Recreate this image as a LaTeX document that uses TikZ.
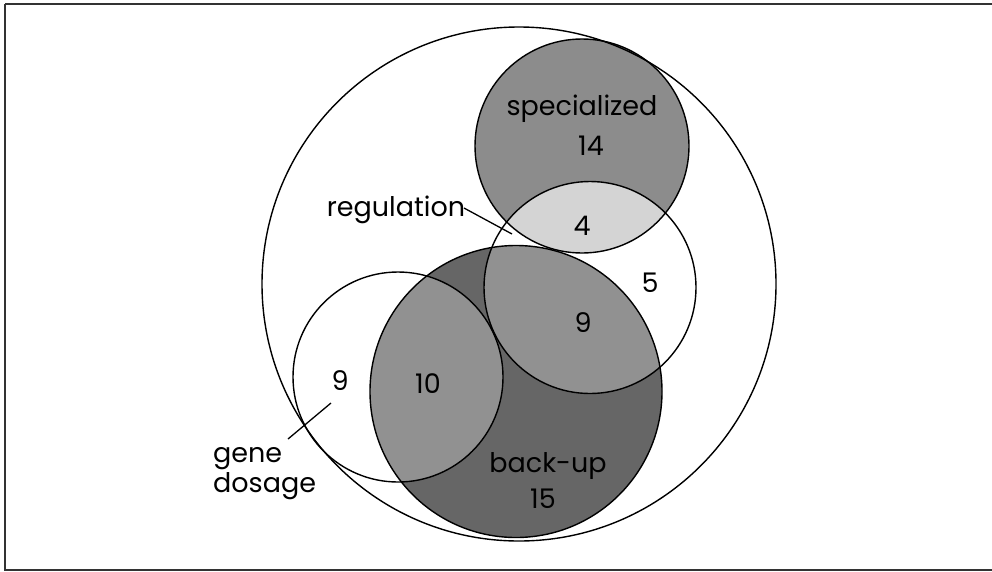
\documentclass[tikz,border=0pt]{standalone}
\usepackage{fontspec}
\setmainfont{Poppins}
\begin{document}
\begin{tikzpicture}[x=1pt,y=-1pt,
  circ/.style={draw=black,line width=1.4pt},
  lbl/.style={font=\fontsize{27}{30}\selectfont,inner sep=0pt,anchor=base},
  leader/.style={draw=black,line width=1.3pt}]
\useasboundingbox (0,0) rectangle (992,571);
\clip (0,0) rectangle (992,571);
\fill[white] (0,0) rectangle (992,571);
\draw[line width=1.8pt,draw=black!80] (5,4) -- (998,4) (5,4) -- (5,570) -- (998,570);
% circle geometry
\def\Big{(519,284) circle[radius=257]}
\def\Spec{(582,146) circle[radius=107]}
\def\Reg{(590,287.5) circle[radius=106]}
\def\Back{(516,391.5) circle[radius=146]}
\def\Gene{(398,377) circle[radius=105]}
% fills
\fill[gray!75!black!0, fill={rgb,255:red,102;green,102;blue,102}] \Back;
\fill[fill={rgb,255:red,140;green,140;blue,140}] \Spec;
\begin{scope}
  \clip \Spec;
  \fill[fill={rgb,255:red,212;green,212;blue,212}] \Reg;
\end{scope}
\begin{scope}
  \clip \Back;
  \fill[fill={rgb,255:red,145;green,145;blue,145}] \Reg;
  \fill[fill={rgb,255:red,145;green,145;blue,145}] \Gene;
\end{scope}
% outlines
\draw[circ] \Big;
\draw[circ] \Spec;
\draw[circ] \Reg;
\draw[circ] \Back;
\draw[circ] \Gene;
% labels
\node[lbl] (spec) at (582,115) {specialized};
\node[lbl] (n14) at (591,155) {14};
\node[lbl] (n4) at (582,235) {4};
\node[lbl] (reg) at (396,216) {regulation};
\node[lbl] (n5) at (650,292) {5};
\node[lbl] (n9a) at (583,332) {9};
\node[lbl] (n9b) at (340,390) {9};
\node[lbl] (n10) at (428,393) {10};
\node[lbl,anchor=base west] (gene) at (213,462) {gene};
\node[lbl,anchor=base west] (dos) at (213,492) {dosage};
\node[lbl] (back) at (548,472) {back-up};
\node[lbl] (n15) at (543,508) {15};
% leaders
\coordinate (regend) at (512,234);
\coordinate (regstart) at (464,208);
\coordinate (geneend) at (331,403);
\coordinate (genestart) at (288,439);
\draw[leader] (regstart) -- (regend);
\draw[leader] (genestart) -- (geneend);
\end{tikzpicture}
\end{document}
